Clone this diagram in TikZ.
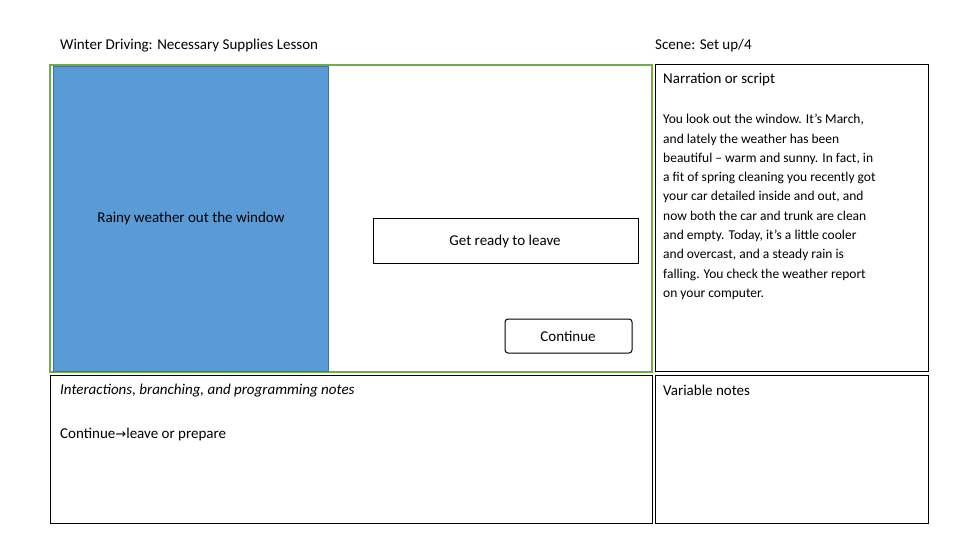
\documentclass[tikz,border=0pt]{standalone}
\usepackage{fontspec}
\setmainfont{Carlito}
\newfontfamily\dejavu{DejaVu Sans}
\begin{document}
\begin{tikzpicture}[x=1pt,y=-1pt,
  lbl/.style={anchor=west,inner sep=0pt,font=\fontsize{15}{18}\selectfont},
  box/.style={draw=black,line width=1pt}]
\useasboundingbox (0,0) rectangle (960,540);
\node[lbl] (title) at (60,46) {Winter Driving: Necessary Supplies Lesson};
\node[lbl] (scene) at (655,46) {Scene: Set up/4};
\draw[draw={rgb,255:red,112;green,173;blue,71},line width=1.5pt] (50,65) rectangle (652,372);
\draw[fill={rgb,255:red,91;green,155;blue,213},draw={rgb,255:red,65;green,113;blue,156}] (53,66) rectangle (328,371);
\node[lbl,anchor=center] (rain) at (191,218) {Rainy weather out the window};
\draw[box] (373,218) rectangle (638,263);
\node[lbl,anchor=center] (ready) at (505,241) {Get ready to leave};
\draw[box,rounded corners=3pt] (505,319) rectangle (632,353);
\node[lbl,anchor=center] (cont) at (568,336) {Continue};
\draw[box] (655,65) rectangle (928,371);
\node[lbl] (narr) at (663,80) {Narration or script};
\node[anchor=north west,inner sep=0pt,align=left,font=\fontsize{13.5}{19.3}\selectfont] (para) at (663,114)
{You look out the window. It’s March,\\and lately the weather has been\\beautiful – warm and sunny. In fact, in\\a fit of spring cleaning you recently got\\your car detailed inside and out, and\\now both the car and trunk are clean\\and empty. Today, it’s a little cooler\\and overcast, and a steady rain is\\falling. You check the weather report\\on your computer.};
\draw[box] (50,375) rectangle (652,523);
\node[lbl] (inter) at (60,391) {\itshape Interactions, branching, and programming notes};
\node[lbl] (cl) at (60,434) {Continue{\dejavu\fontsize{13}{15}\selectfont →}leave or prepare};
\draw[box] (655,375) rectangle (928,523);
\node[lbl] (var) at (663,390) {Variable notes};
\end{tikzpicture}
\end{document}
